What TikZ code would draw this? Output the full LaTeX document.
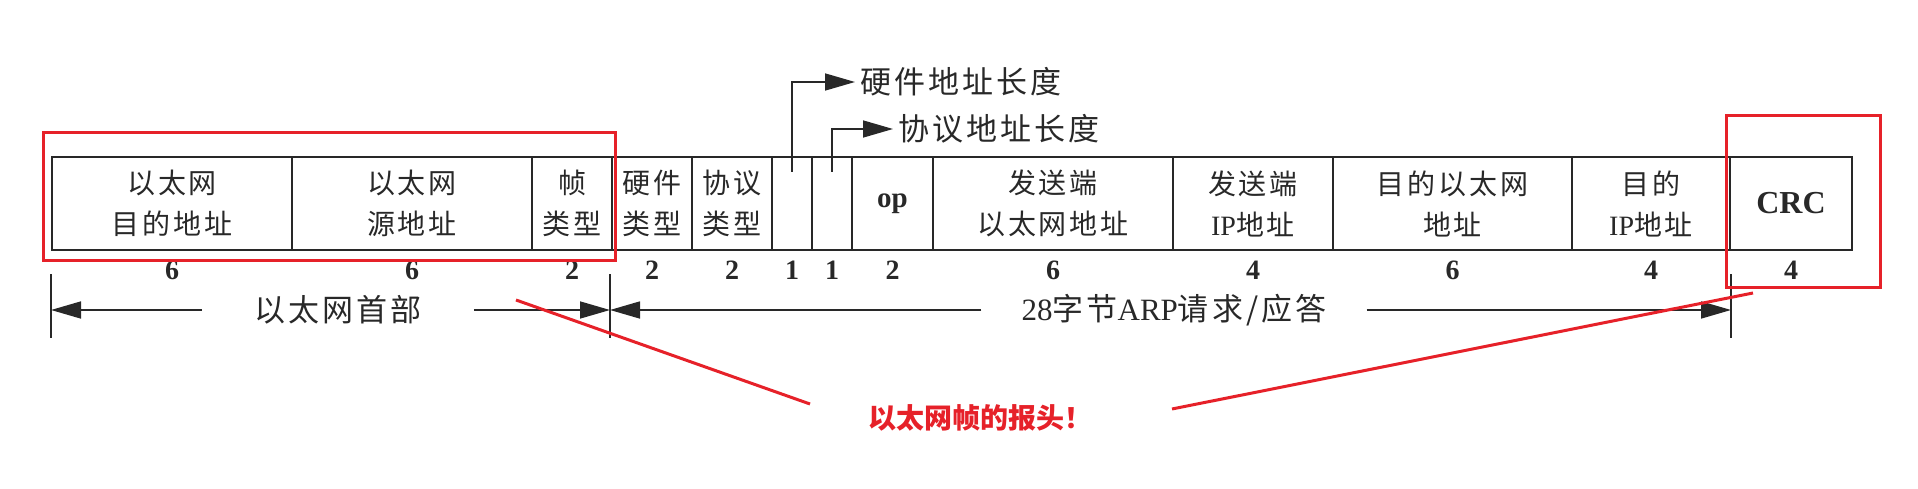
\documentclass[tikz,border=0pt]{standalone}
\usepackage{fontspec}
\setmainfont{Liberation Serif}
\newfontfamily\cjk{Noto Sans CJK SC}[LetterSpace=10]
\newfontfamily\cjkplain{Noto Sans CJK SC}
\usetikzlibrary{arrows.meta}
\definecolor{hlred}{RGB}{230,33,41}
\definecolor{ink}{RGB}{40,40,40}
\tikzset{
  fieldbox/.style={draw=ink, line width=2pt, minimum height=93pt, inner sep=0pt, align=center, text=ink, font=\fontsize{28}{41}\selectfont\cjk},
  bytes/.style={text=ink, font=\fontsize{28}{28}\selectfont\bfseries},
  caption/.style={text=ink, inner sep=5pt, font=\fontsize{31}{31}\selectfont\cjk},
  dimline/.style={draw=ink, line width=1.6pt, -{Triangle[length=30pt,width=17pt]}},
  endmark/.style={draw=ink, line width=1.6pt},
  redbox/.style={draw=hlred, line width=3pt},
}
\begin{document}
\begin{tikzpicture}[x=1pt,y=-1pt]
\useasboundingbox (0,0) rectangle (1918,489);
\foreach \n/\a/\b/\t/\s in {
  dst/52/292/{以太网\\目的地址}/6,
  src/292/532/{以太网\\源地址}/6,
  ftype/532/612/{帧\\类型}/2,
  hwtype/612/692/{硬件\\类型}/2,
  prtype/692/772/{协议\\类型}/2,
  hwlen/772/812/{}/1,
  prlen/812/852/{}/1,
  op/852/933/{\rmfamily\bfseries\fontsize{29}{29}\selectfont op}/2,
  sha/933/1173/{发送端\\以太网地址}/6,
  spa/1173/1333/{发送端\\{\rmfamily IP}地址}/4,
  tha/1333/1572/{目的以太网\\地址}/6,
  tpa/1572/1730/{目的\\{\rmfamily IP}地址}/4,
  crc/1730/1852/{\rmfamily\bfseries\fontsize{32}{32}\selectfont CRC}/4} {
  \node[fieldbox, minimum width={(\b-\a)*1pt}] (\n) at ({(\a+\b)/2},203.5) {\t};
  \node[bytes] (\n-len) at ({(\a+\b)/2},270) {\s};
}
\node[caption, anchor=west] (hwlbl) at (855,82) {硬件地址长度};
\node[caption, anchor=west] (prlbl) at (893,129) {协议地址长度};
\coordinate (hwtail) at (792,172);
\coordinate (prtail) at (832,172);
\draw[dimline] (hwtail) |- (hwlbl.west);
\draw[dimline] (prtail) |- (prlbl.west);
\node[caption, inner xsep=52pt] (ethhdr) at (338,310) {以太网首部};
\node[caption, inner xsep=40pt] (arpbody) at (1174,310) {{\rmfamily 28}字节{\rmfamily ARP}请求/应答};
\coordinate (m0) at (51,310);
\coordinate (m1) at (610,310);
\coordinate (m2) at (1731,310);
\foreach \m in {m0,m1,m2}
  \draw[endmark] ([yshift=36pt]\m) -- ([yshift=-28pt]\m);
\draw[dimline] (ethhdr.west) -- (m0);
\draw[dimline] (ethhdr.east) -- (m1);
\draw[dimline] (arpbody.west) -- (m1);
\draw[dimline] (arpbody.east) -- (m2);
\draw[redbox] (43,133) rectangle (615,260);
\draw[redbox] (1726,116) rectangle (1880,287);
\node[text=hlred, font=\fontsize{28}{28}\selectfont\cjkplain\bfseries] (note) at (980,418) {以太网帧的报头！};
\coordinate (r0) at (516,300);
\coordinate (r1) at (810,404);
\coordinate (r2) at (1753,293);
\coordinate (r3) at (1172,409);
\draw[redbox] (r0) -- (r1);
\draw[redbox] (r2) -- (r3);
\end{tikzpicture}
\end{document}
